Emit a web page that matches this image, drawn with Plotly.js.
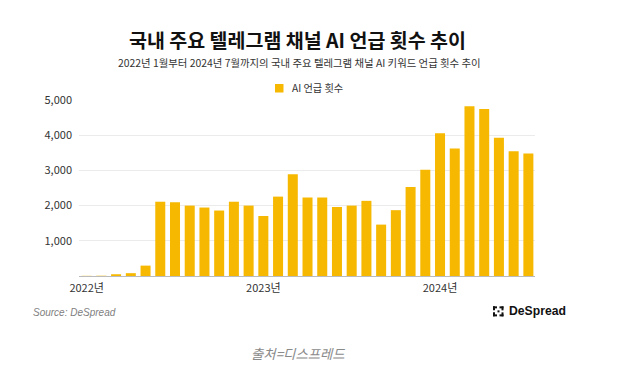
<!DOCTYPE html>
<html>
<head>
<meta charset="utf-8">
<script src="https://cdn.plot.ly/plotly-3.0.1.min.js"></script>
<style>html,body{margin:0;padding:0;background:#fff;}#chart{width:623px;height:375px;}</style>
</head>
<body>
<div id="chart"></div>
<script>
const months = ["2022-01","2022-02","2022-03","2022-04","2022-05","2022-06","2022-07","2022-08","2022-09","2022-10","2022-11","2022-12",
"2023-01","2023-02","2023-03","2023-04","2023-05","2023-06","2023-07","2023-08","2023-09","2023-10","2023-11","2023-12",
"2024-01","2024-02","2024-03","2024-04","2024-05","2024-06","2024-07"];
const mentions = [5, 8, 50, 80, 295, 2110, 2095, 2000, 1945, 1860, 2110, 2000,
1705, 2255, 2890, 2230, 2230, 1960, 2000, 2135, 1460, 1870, 2525, 3020,
4055, 3620, 4820, 4745, 3925, 3545, 3480];
const seriesName = "AI 언급 횟수";
const yTicks = [1000, 2000, 3000, 4000, 5000];
const yTickText = ["1,000", "2,000", "3,000", "4,000", "5,000"];
const xTicks = ["2022-01", "2023-01", "2024-01"];
const xTickText = ["2022년", "2023년", "2024년"];

const FONT = '"Noto Sans CJK KR", "Noto Sans", sans-serif';
const BAR_COLOR = '#F6B800';
// plot area in px
const L = 79, R = 535, T = 100, B = 275.7;
const px = x => (x - L) / (R - L);
const py = y => (B - y) / (B - T);

const shapes = [];
function rect(x0, y0, x1, y1, color) {
  shapes.push({type: 'rect', xref: 'paper', yref: 'paper', x0: px(x0), x1: px(x1), y0: py(y1), y1: py(y0),
    fillcolor: color || '#111', line: {width: 0}, layer: 'above'});
}
// legend swatch
rect(275, 84, 283.5, 92.5, BAR_COLOR);
// DeSpread logo icon (bracket-like)
rect(493, 306, 497, 308); rect(493, 306, 495, 310);
rect(493, 312, 495, 316); rect(493, 314, 497, 316);
rect(499.5, 306, 503.5, 308); rect(501.5, 306, 503.5, 310);
rect(501.5, 312, 503.5, 316); rect(499.5, 314, 503.5, 316);
rect(497.5, 310, 499.5, 312);

const data = [{
  type: 'bar', x: months, y: mentions, name: seriesName,
  marker: {color: BAR_COLOR}, width: 0.68,
  hovertemplate: '%{x}: %{y}<extra></extra>'
}];

const layout = {
  width: 623, height: 375,
  margin: {l: L, r: 623 - R, t: T, b: 375 - B},
  paper_bgcolor: '#fff', plot_bgcolor: '#fff',
  font: {family: FONT, color: '#333', size: 11},
  showlegend: false,
  xaxis: {
    type: 'category', range: [-0.52, 30.45],
    tickmode: 'array', tickvals: xTicks, ticktext: xTickText,
    showgrid: false, showline: true, linecolor: '#bbb', linewidth: 1,
    ticks: '', ticklabelstandoff: 2, tickfont: {family: FONT, size: 11, color: '#333'}, fixedrange: true
  },
  yaxis: {
    range: [0, 5000], tickmode: 'array', tickvals: yTicks, ticktext: yTickText,
    showgrid: true, gridcolor: '#ebebeb', gridwidth: 1, zeroline: false,
    showline: false, ticks: '', ticklabelstandoff: 6,
    tickfont: {family: FONT, size: 11, color: '#333'}, fixedrange: true
  },
  shapes: shapes,
  annotations: [
    {text: '<b>국내 주요 텔레그램 채널 AI 언급 횟수 추이</b>', xref: 'paper', yref: 'paper',
      x: px(297), y: py(40), xanchor: 'center', yanchor: 'middle', showarrow: false,
      font: {family: FONT, size: 19.5, color: '#111'}},
    {text: '2022년 1월부터 2024년 7월까지의 국내 주요 텔레그램 채널 AI 키워드 언급 횟수 추이', xref: 'paper', yref: 'paper',
      x: px(299), y: py(63), xanchor: 'center', yanchor: 'middle', showarrow: false,
      font: {family: FONT, size: 10.4, color: '#333'}},
    {text: seriesName, xref: 'paper', yref: 'paper',
      x: px(290), y: py(88), xanchor: 'left', yanchor: 'middle', showarrow: false,
      font: {family: FONT, size: 10.2, color: '#333'}},
    {text: '<i>Source: DeSpread</i>', xref: 'paper', yref: 'paper',
      x: px(31), y: py(312), xanchor: 'left', yanchor: 'middle', showarrow: false,
      font: {family: '"Liberation Sans", Arial, sans-serif', size: 10, color: '#808080'}},
    {text: '<b>DeSpread</b>', xref: 'paper', yref: 'paper',
      x: px(507), y: py(311), xanchor: 'left', yanchor: 'middle', showarrow: false,
      font: {family: '"Liberation Sans", Arial, sans-serif', size: 12.2, color: '#111'}},
    {text: '<i>출처=디스프레드</i>', xref: 'paper', yref: 'paper',
      x: px(298), y: py(353), xanchor: 'center', yanchor: 'middle', showarrow: false,
      font: {family: FONT, size: 13.4, color: '#8a8a8a'}}
  ]
};

Plotly.newPlot('chart', data, layout, {displayModeBar: false, staticPlot: true});
</script>
</body>
</html>
